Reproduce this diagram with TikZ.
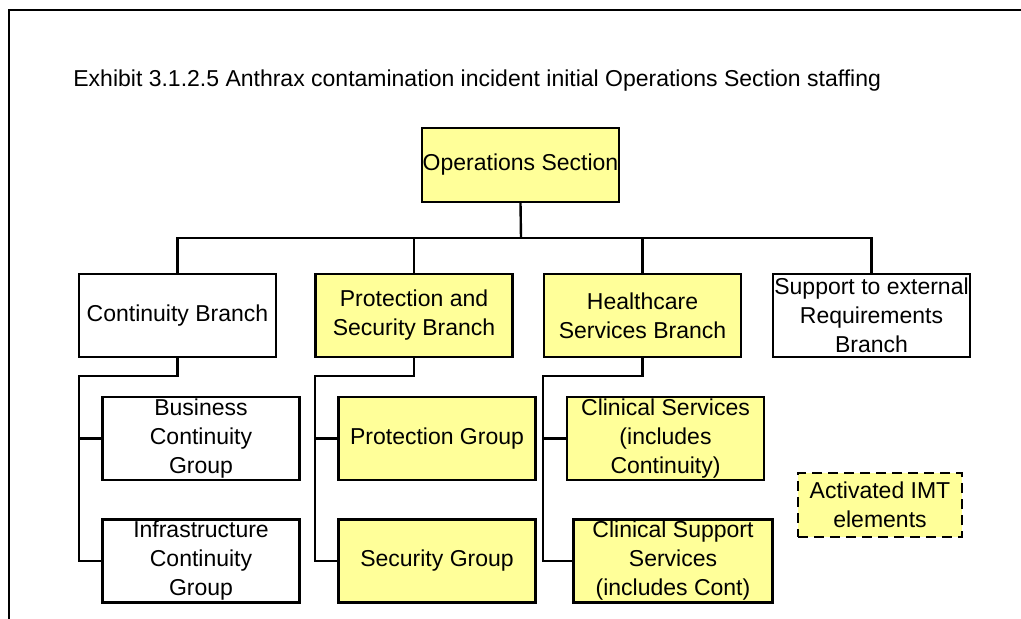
\documentclass[tikz,border=0pt]{standalone}
\usepackage{fontspec}
\setmainfont{Liberation Sans}
\usepackage{tikz}
\definecolor{imtyellow}{RGB}{255,255,153}

\begin{document}
\begin{tikzpicture}[x=0.5pt, y=-0.5pt,
	unit/.style={draw, line width=1.2pt, minimum width=98.5pt,
	minimum height=41.5pt, inner sep=0pt, align=center, fill=white,
	font=\fontsize{11.5}{14.5}\selectfont},
	active/.style={unit, fill=imtyellow},
	wire/.style={line width=1.2pt}]
\useasboundingbox (0,0) rectangle (1021,619);
\draw[line width=1.2pt] (9,619) -- (9,10) -- (1021,10);
\node[anchor=base west, inner sep=0pt, font=\fontsize{11.5}{14}\selectfont] (title) at (73,87)
	{Exhibit 3.1.2.5 Anthrax contamination incident initial Operations Section staffing};
% top
\node[active, minimum height=37pt] (ops) at (520.5,165) {Operations Section};
% branches
\node[unit] (cont) at (177.5,315.5) {Continuity Branch};
\node[active] (prot) at (414,315.5) {Protection and\\Security Branch};
\node[active] (hc) at (642.5,315.5) {Healthcare\\Services Branch};
\node[unit] (supp) at (871.5,315.5) {Support to external\\Requirements\\Branch};
% groups
\node[unit] (bcg) at (201,438.5) {Business\\Continuity\\Group};
\node[unit] (icg) at (201,561) {Infrastructure\\Continuity\\Group};
\node[active] (pg) at (437,438.5) {Protection Group};
\node[active] (sg) at (437,561) {Security Group};
\node[active] (cs) at (665.5,438.5) {Clinical Services\\(includes\\Continuity)};
\node[active, minimum width=99.5pt] (css) at (673,561) {Clinical Support\\Services\\(includes Cont)};
% legend
\node[active, dash pattern=on 5pt off 3pt, minimum width=82pt, minimum height=32pt] (imt) at (880,505)
	{Activated IMT\\elements};
% connectors
\coordinate (bus) at (521,238);
\draw[wire] (ops.south) -- (bus);
\draw[wire] (cont.north) |- (bus) -| (supp.north);
\draw[wire] (prot.north) -- (prot.north |- bus);
\draw[wire] (hc.north) -- (hc.north |- bus);
\coordinate (cspine) at (79,376);
\coordinate (pspine) at (315,376);
\coordinate (hspine) at (543,376);
\draw[wire] (cont.south) |- (cspine) |- (icg.west);
\draw[wire] (cspine) |- (bcg.west);
\draw[wire] (prot.south) |- (pspine) |- (sg.west);
\draw[wire] (pspine) |- (pg.west);
\draw[wire] (hc.south) |- (hspine) |- (css.west);
\draw[wire] (hspine) |- (cs.west);
\end{tikzpicture}
\end{document}
